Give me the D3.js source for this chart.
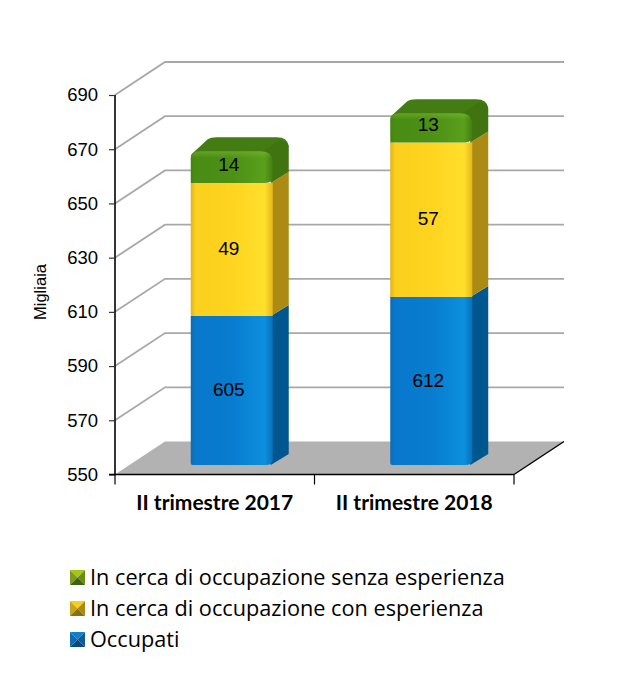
<!DOCTYPE html>
<html><head><meta charset="utf-8">
<script src="https://cdnjs.cloudflare.com/ajax/libs/d3/7.8.5/d3.min.js"></script>
<style>html,body{margin:0;background:#fff}svg{display:block}</style></head>
<body><svg id="c" width="636" height="684"></svg>
<script>
const categories = ["II trimestre 2017","II trimestre 2018"];
const occupati = [605,612];
const conEsperienza = [49,57];
const senzaEsperienza = [14,13];
const seriesNames = ["Occupati","In cerca di occupazione con esperienza","In cerca di occupazione senza esperienza"];
const yTicks = [550,570,590,610,630,650,670,690];
const yTitle = "Migliaia";

const palette = [
 {front:["#0c6cb8","#0878cc","#087cd0","#0c90de","#0870b8"],side:"#00568f",top:"#0a66a8",sw:["#0f80d0","#0a5c9c","#0a6cb4","#07497c"]},
 {front:["#e0b416","#fbd01e","#ffd41f","#ffdf2c","#e4b818"],side:"#ab8b14",top:"#c9a316",sw:["#f6d020","#a88a16","#c8a41c","#8a7012"]},
 {front:["#43850f","#4a8c14","#4c9016","#5a9f1c","#437f12"],side:"#3f7410",top:"#437c12",sw:["#a4c810","#6c8c10","#7c9c14","#3c6410"]}
];
const depthX=50, depthY=33, barDX=16, barDY=11, barW=82;

const svg=d3.select("#c");
const y=d3.scaleLinear().domain([550,690]).range([474.5,95]);
const x=d3.scaleBand().domain(categories).range([115,514]);

const defs=svg.append("defs");
palette.forEach((p,i)=>{
  const g=defs.append("linearGradient").attr("id","g"+i);
  [0,.06,.5,.9,1].forEach((o,j)=>g.append("stop").attr("offset",o).attr("stop-color",p.front[j]));
});
const hl=defs.append("linearGradient").attr("id","hl").attr("x1",0).attr("x2",0).attr("y1",0).attr("y2",1);
hl.append("stop").attr("offset",0).attr("stop-color","#8fc43a").attr("stop-opacity",.4);
hl.append("stop").attr("offset",.22).attr("stop-color","#8fc43a").attr("stop-opacity",0);

// floor
const y0=y(550);
svg.append("path").attr("fill","#b2b2b2")
  .attr("d",d3.line()([[x.range()[0],y0],[x.range()[0]+depthX,y0-depthY],[x.range()[1]+depthX,y0-depthY],[x.range()[1],y0]]));
// walls' grid
svg.append("g").selectAll("path").data(yTicks.slice(1)).join("path")
  .attr("fill","none").attr("stroke","#a8a8a8").attr("stroke-width",1.8)
  .attr("d",d=>d3.line()([[115,y(d)],[115+depthX,y(d)-depthY],[514+depthX,y(d)-depthY]]));

// floor right edge
svg.append("path").attr("stroke","#000").attr("stroke-width",1.4).attr("fill","none")
  .attr("d",d3.line()([[514,y0],[514+depthX,y0-depthY]]));

const table=categories.map((c,i)=>({cat:c,s0:occupati[i],s1:conEsperienza[i],s2:senzaEsperienza[i]}));
const stack=d3.stack().keys(["s0","s1","s2"])(table);
const off=9.5; // bar front plane offset from the axis plane
const yb=v=>y(v)-off;

stack.forEach((layer,si)=>{
  const g=svg.append("g");
  layer.forEach(d=>{
    const fx=x(d.data.cat)+x.bandwidth()/2+17-barW/2;
    const base=si===0?550:d[0];
    const b=yb(base), t=yb(d[1]);
    const isTop=si===2;
    const p=palette[si];
    const R=fx+barW, S=fx+barW+barDX;
    if(isTop){
      const tt=t+3, back=tt-barDY;
      g.append("path").attr("fill",p.top)
       .attr("d",`M${fx},${tt+9}Q${fx},${tt+6} ${fx+4},${tt+3}L${fx+17},${back+2}Q${fx+20},${back} ${fx+26},${back}L${S-12},${back}Q${S-1},${back} ${S},${back+9}L${R},${tt+14}Z`);
      g.append("path").attr("fill",p.side)
       .attr("d",`M${R-2},${b}L${S},${b-barDY}L${S},${back+9}Q${S-1},${back+4} ${S-9},${back+3}L${R-8},${tt+2}L${R-2},${tt+6}Z`);
      const face=`M${fx},${b}L${fx},${tt+10}Q${fx},${tt+3} ${fx+9},${tt+3}L${R-12},${tt+3}Q${R-1},${tt+3} ${R},${tt+13}L${R},${b-3}Q${R-3},${b} ${R-8},${b}Z`;
      g.append("path").attr("fill","url(#g"+si+")").attr("d",face);
      g.append("path").attr("fill","url(#hl)").attr("d",face);
    } else {
      g.append("path").attr("fill",p.side)
       .attr("d",d3.line()([[R-2,b],[S,b-barDY],[S,t-barDY],[R-2,t]]));
      const r=si===0?4:0;
      g.append("path").attr("fill","url(#g"+si+")")
       .attr("d",`M${fx},${t}L${R},${t}L${R},${b-r}Q${R-1},${b} ${R-r-3},${b}L${fx+2},${b}Q${fx},${b} ${fx},${b-r/2}Z`);
    }
    g.append("text").attr("x",fx+38).attr("y",(b+t)/2-(isTop?0:1)).attr("dy","0.35em")
      .attr("text-anchor","middle").attr("font-family","Liberation Sans").attr("font-size",19).attr("fill","#000")
      .text(d[1]-d[0]);
  });
});

// axes
const ax=d3.axisLeft(y).tickValues(yTicks).tickSize(6).tickPadding(11).tickFormat(d3.format("d"));
const gy=svg.append("g").attr("transform","translate(115,0)").call(ax);
gy.selectAll("text").attr("font-family","Liberation Sans").attr("font-size",18.5).attr("fill","#000");
gy.selectAll("line").attr("stroke","#333").attr("stroke-width",1.2);
gy.select("path").attr("stroke","#000").attr("stroke-width",1.6).attr("d","M0,95V474.5");

const axb=d3.axisBottom(x).tickSize(0).tickPadding(21);
const gx=svg.append("g").attr("transform",`translate(0,${y0})`).call(axb);
gx.select("path").attr("stroke","#000").attr("stroke-width",1.6).attr("d",`M109,0H514`);
gx.selectAll("text").attr("font-family","Lato").attr("font-weight",700).attr("font-size",21).attr("fill","#000");
const edges=[...categories.map(c=>x(c)),x.range()[1]];
gx.selectAll(".edge").data(edges).join("line").attr("class","edge")
  .attr("x1",d=>d).attr("x2",d=>d).attr("y1",0).attr("y2",10).attr("stroke","#000").attr("stroke-width",1.2);

svg.append("text").attr("transform","translate(46,292) rotate(-90)").attr("text-anchor","middle")
  .attr("font-family","Liberation Sans").attr("font-size",16.5).attr("fill","#000").text(yTitle);

// legend
const legendY=d3.scalePoint().domain([2,1,0]).range([577.5,639.5]);
const leg=svg.append("g").selectAll("g").data([2,1,0]).join("g").attr("transform",d=>`translate(70,${legendY(d)-7.5})`);
const s=15,c=7.5;
[[[0,0],[s,0],[c,c]],[[s,0],[s,s],[c,c]],[[0,0],[0,s],[c,c]],[[0,s],[s,s],[c,c]]].forEach((tri,j)=>{
  leg.append("path").attr("d",d3.line().curve(d3.curveLinearClosed)(tri)).attr("fill",d=>palette[d].sw[j]);
});
leg.append("text").attr("x",20).attr("y",7).attr("dy","0.35em").attr("font-family","Open Sans").attr("font-size",21.7).attr("fill","#000")
  .text(d=>seriesNames[d]);
</script></body></html>
